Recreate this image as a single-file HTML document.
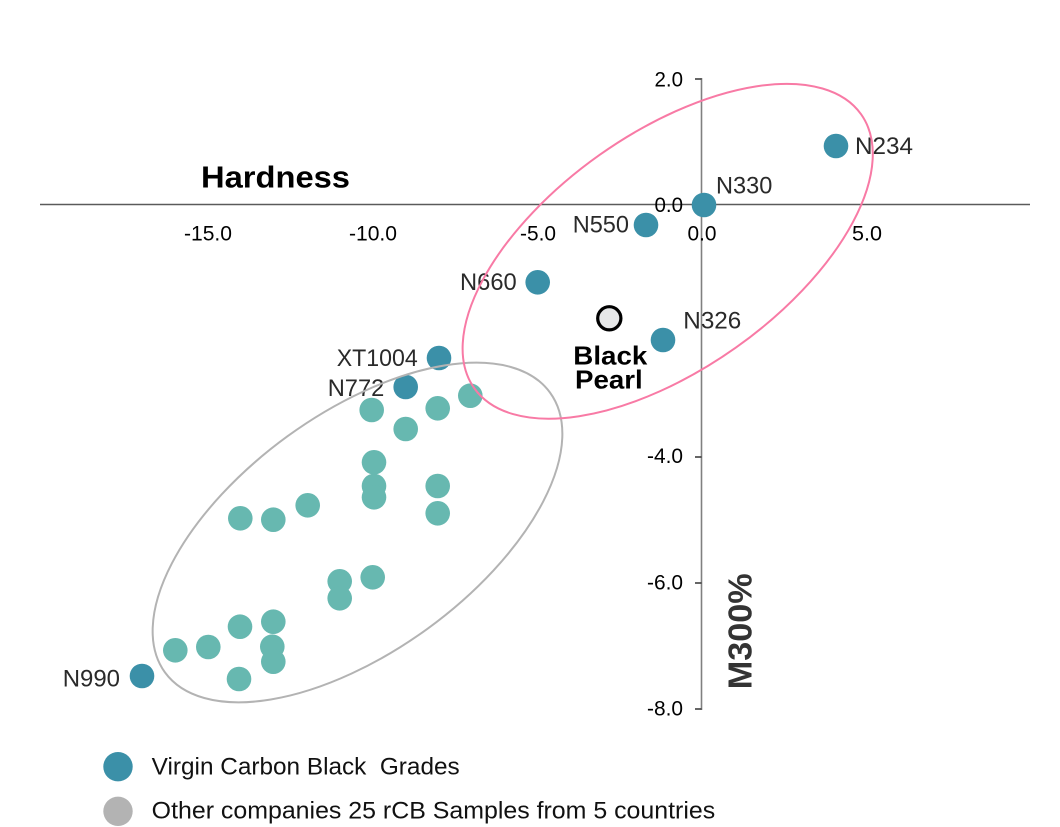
<!DOCTYPE html>
<html>
<head>
<meta charset="utf-8">
<style>
  html, body { margin: 0; padding: 0; background: #ffffff; }
  svg { display: block; }
  text { font-family: "Liberation Sans", "DejaVu Sans", sans-serif; }
</style>
</head>
<body>
<svg width="1060" height="827" viewBox="0 0 1060 827" xmlns="http://www.w3.org/2000/svg">
  <rect x="0" y="0" width="1060" height="827" fill="#ffffff"/>

  <!-- axes -->
  <line x1="40" y1="204.5" x2="1030" y2="204.5" stroke="#5a5a5a" stroke-width="1.4"/>
  <line x1="701.5" y1="78" x2="701.5" y2="710" stroke="#808080" stroke-width="1.6"/>
  <g stroke="#333" stroke-width="1.5">
    <line x1="695" y1="79" x2="701.5" y2="79"/>
    <line x1="695" y1="457" x2="701.5" y2="457"/>
    <line x1="695" y1="583" x2="701.5" y2="583"/>
    <line x1="695" y1="709" x2="701.5" y2="709"/>
  </g>

  <!-- y tick labels -->
  <g font-size="21.5" fill="#000" text-anchor="end">
    <text x="683" y="86.5" textLength="28.5" lengthAdjust="spacingAndGlyphs">2.0</text>
    <text x="683" y="212" textLength="28.5" lengthAdjust="spacingAndGlyphs">0.0</text>
    <text x="683" y="463" textLength="36" lengthAdjust="spacingAndGlyphs">-4.0</text>
    <text x="683" y="589.5" textLength="36" lengthAdjust="spacingAndGlyphs">-6.0</text>
    <text x="683" y="715.5" textLength="36" lengthAdjust="spacingAndGlyphs">-8.0</text>
  </g>

  <!-- x tick labels -->
  <g font-size="21.5" fill="#000" text-anchor="middle">
    <text x="208" y="240.5" textLength="48" lengthAdjust="spacingAndGlyphs">-15.0</text>
    <text x="373" y="240.5" textLength="48" lengthAdjust="spacingAndGlyphs">-10.0</text>
    <text x="538" y="240.5" textLength="36" lengthAdjust="spacingAndGlyphs">-5.0</text>
    <text x="702" y="240.5" textLength="29" lengthAdjust="spacingAndGlyphs">0.0</text>
    <text x="867" y="240.5" textLength="30" lengthAdjust="spacingAndGlyphs">5.0</text>
  </g>

  <!-- axis titles -->
  <text x="201" y="187.3" font-size="31" font-weight="bold" fill="#000" textLength="149" lengthAdjust="spacingAndGlyphs">Hardness</text>
  <text transform="translate(751.7,689.3) rotate(-90)" x="0" y="0" font-size="33" font-weight="bold" fill="#333" textLength="116" lengthAdjust="spacingAndGlyphs">M300%</text>

  <!-- rCB samples (teal) -->
  <g fill="#67b8b0">
    <circle cx="371.7" cy="410" r="12.3"/>
    <circle cx="405.7" cy="429" r="12.3"/>
    <circle cx="437.7" cy="408.3" r="12.3"/>
    <circle cx="470.3" cy="395.7" r="12.3"/>
    <circle cx="374" cy="462.3" r="12.3"/>
    <circle cx="374" cy="486" r="12.3"/>
    <circle cx="374" cy="497.3" r="12.3"/>
    <circle cx="437.7" cy="486" r="12.3"/>
    <circle cx="437.7" cy="513.3" r="12.3"/>
    <circle cx="240.3" cy="518.3" r="12.3"/>
    <circle cx="273.3" cy="519.7" r="12.3"/>
    <circle cx="307.7" cy="505.3" r="12.3"/>
    <circle cx="339.7" cy="581.3" r="12.3"/>
    <circle cx="339.7" cy="598.3" r="12.3"/>
    <circle cx="372.7" cy="577.3" r="12.3"/>
    <circle cx="240" cy="626.7" r="12.3"/>
    <circle cx="273.3" cy="621.7" r="12.3"/>
    <circle cx="272.3" cy="646.7" r="12.3"/>
    <circle cx="273.3" cy="661.7" r="12.3"/>
    <circle cx="175.3" cy="650.3" r="12.3"/>
    <circle cx="208.3" cy="647" r="12.3"/>
    <circle cx="239" cy="679" r="12.3"/>
  </g>

  <!-- virgin grades (blue) -->
  <g fill="#3b90a8">
    <circle cx="836" cy="146" r="12.3"/>
    <circle cx="704" cy="205" r="12.3"/>
    <circle cx="646" cy="225" r="12.3"/>
    <circle cx="537.7" cy="282.3" r="12.3"/>
    <circle cx="663" cy="340" r="12.3"/>
    <circle cx="439" cy="358" r="12.3"/>
    <circle cx="405.7" cy="387" r="12.3"/>
    <circle cx="142" cy="676" r="12.3"/>
  </g>

  <!-- Black Pearl -->
  <circle cx="609.3" cy="318.3" r="11.6" fill="#e6e7e8" stroke="#000" stroke-width="3.2"/>
  <g font-size="26" font-weight="bold" fill="#000">
    <text x="573.3" y="364.3" textLength="74" lengthAdjust="spacingAndGlyphs">Black</text>
    <text x="575" y="388.3" textLength="67.7" lengthAdjust="spacingAndGlyphs">Pearl</text>
  </g>

  <!-- point labels -->
  <g font-size="24.5" fill="#2a2a2a">
    <text x="855" y="154" textLength="58" lengthAdjust="spacingAndGlyphs">N234</text>
    <text x="716" y="193.3" textLength="56.3" lengthAdjust="spacingAndGlyphs">N330</text>
    <text x="572.7" y="232.7" textLength="56.3" lengthAdjust="spacingAndGlyphs">N550</text>
    <text x="460" y="290" textLength="56.7" lengthAdjust="spacingAndGlyphs">N660</text>
    <text x="683.3" y="328.3" textLength="58" lengthAdjust="spacingAndGlyphs">N326</text>
    <text x="336.7" y="366" textLength="81" lengthAdjust="spacingAndGlyphs">XT1004</text>
    <text x="327.7" y="396" textLength="56.6" lengthAdjust="spacingAndGlyphs">N772</text>
    <text x="62.7" y="686.7" textLength="57.3" lengthAdjust="spacingAndGlyphs">N990</text>
  </g>

  <!-- ellipses -->
  <ellipse cx="357.5" cy="532.5" rx="238" ry="119" transform="rotate(-36 357.5 532.5)" fill="none" stroke="#b3b3b3" stroke-width="2"/>
  <ellipse cx="667.7" cy="251.3" rx="237" ry="118" transform="rotate(-35.3 667.7 251.3)" fill="none" stroke="#f87aa5" stroke-width="2"/>

  <!-- legend -->
  <circle cx="118" cy="766.7" r="14.7" fill="#3b90a8"/>
  <circle cx="118" cy="811.3" r="14.7" fill="#b3b3b3"/>
  <g font-size="24" fill="#111">
    <text x="151.7" y="774.3" textLength="308" lengthAdjust="spacingAndGlyphs" xml:space="preserve">Virgin Carbon Black  Grades</text>
    <text x="151.7" y="818.3" textLength="563.5" lengthAdjust="spacingAndGlyphs">Other companies 25 rCB Samples from 5 countries</text>
  </g>
</svg>
</body>
</html>
